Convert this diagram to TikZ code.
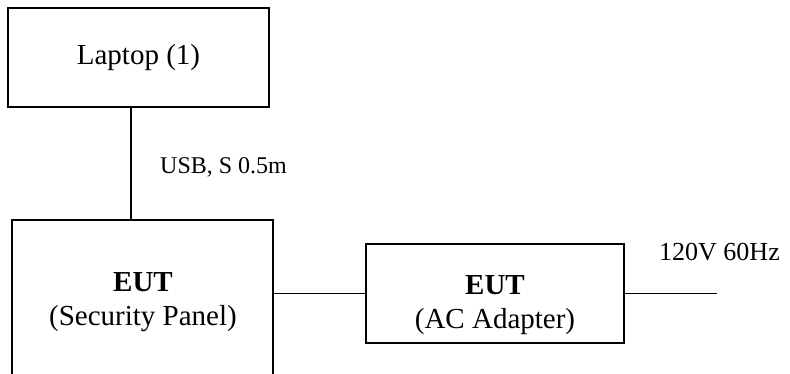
\documentclass[tikz,border=0pt]{standalone}
\usepackage{fontspec}
\setmainfont{Liberation Serif}
\begin{document}
\begin{tikzpicture}[x=1pt,y=-1pt,
  box/.style={draw,line width=1.4pt,inner sep=0pt},
  wire/.style={line width=1.4pt},
  big/.style={font=\fontsize{29}{34}\selectfont,align=center},
  small/.style={font=\fontsize{24}{28}\selectfont,anchor=west,inner sep=0pt},
  mid/.style={font=\fontsize{26}{30}\selectfont,anchor=west,inner sep=0pt}]
\useasboundingbox (0,0) rectangle (790,374);
\clip (0,0) rectangle (790,374);
\node[box,big,minimum width=261pt,minimum height=99pt] (laptop) at (138.5,57.5) {Laptop (1)};
\node[box,minimum width=261pt,minimum height=170pt] (panel) at (142.5,305) {};
\node[big] (paneltext) at (143,302) {\textbf{EUT}\\(Security Panel)};
\node[box,minimum width=258pt,minimum height=99pt] (adapter) at (495,293.5) {};
\node[big] (adaptertext) at (495,305) {\textbf{EUT}\\(AC Adapter)};
\coordinate (usbx) at (131,0);
\coordinate (mains) at (717,293.5);
\draw[wire] (laptop.south -| usbx) -- (panel.north -| usbx);
\draw[wire] (adapter.west -| panel.east) -- (adapter.west);
\draw[wire] (adapter.east) -- (mains);
\node[small] (usb) at (160,167) {USB, S 0.5m};
\node[mid] (volt) at (659,252) {120V 60Hz};
\end{tikzpicture}
\end{document}
